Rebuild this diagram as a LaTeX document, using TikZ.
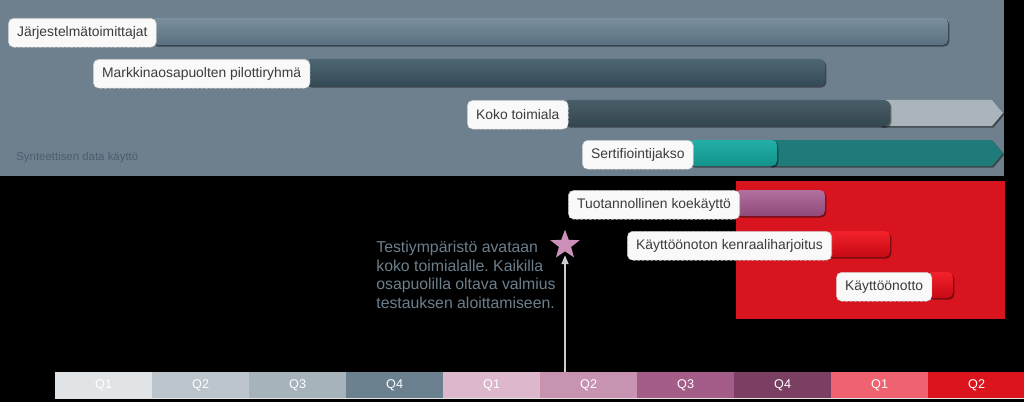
\documentclass[tikz,border=0pt]{standalone}
\usepackage{fontspec}
\setmainfont{Liberation Sans}
\usepackage{tikz}
\usetikzlibrary{positioning,shapes.geometric,arrows.meta,shadows}
\frenchspacing

\definecolor{panelgrey}{HTML}{6E7F8D}
\definecolor{synthgrey}{HTML}{4B5E6D}
\definecolor{notegrey}{HTML}{6C7F8C}
\definecolor{lbltext}{HTML}{3C3C3C}
\definecolor{boxred}{HTML}{D8141E}
\definecolor{suppA}{HTML}{7B8F9D}
\definecolor{suppB}{HTML}{587080}
\definecolor{pilotA}{HTML}{4E6672}
\definecolor{pilotB}{HTML}{344A56}
\definecolor{kokoA}{HTML}{4A5E69}
\definecolor{kokoB}{HTML}{33464F}
\definecolor{kokolight}{HTML}{A9B5BB}
\definecolor{tealA}{HTML}{22AFA7}
\definecolor{tealB}{HTML}{12928B}
\definecolor{tealdark}{HTML}{1F7B79}
\definecolor{purpA}{HTML}{B270A0}
\definecolor{purpB}{HTML}{8E4A78}
\definecolor{redA}{HTML}{F2222C}
\definecolor{redB}{HTML}{C60A14}
\definecolor{starpink}{HTML}{CC90B8}
\definecolor{arrowgrey}{HTML}{C9CED2}
\definecolor{qa}{HTML}{E1E4E6}
\definecolor{qb}{HTML}{BCC5CB}
\definecolor{qc}{HTML}{A6B3BA}
\definecolor{qd}{HTML}{6B8190}
\definecolor{qe}{HTML}{DDB7CC}
\definecolor{qf}{HTML}{C893B0}
\definecolor{qg}{HTML}{A45C88}
\definecolor{qh}{HTML}{7A3F62}
\definecolor{qi}{HTML}{EF6370}
\definecolor{qj}{HTML}{DB141E}

\pgfdeclarelayer{back}
\pgfdeclarelayer{bars}
\pgfsetlayers{back,bars,main}

\tikzset{
  lbl/.style={draw=gray!50, dash pattern=on 1.5pt off 1pt, fill=white!95!gray, rounded corners=3pt,
    text=lbltext, font=\fontsize{7.9}{9}\selectfont, inner xsep=5pt, minimum height=16.4pt, anchor=north west},
  barshadow/.style={drop shadow={shadow xshift=0.8pt, shadow yshift=-0.9pt, opacity=0.45, fill=black}},
  bar/.style={rounded corners=3pt, barshadow},
  quarter/.style={minimum width=55pt, minimum height=14.7pt, inner sep=0pt, anchor=north west,
    text=white, font=\fontsize{7.2}{8}\selectfont}
}

\begin{document}
\begin{tikzpicture}[x=0.02cm, y=-0.02cm]

\begin{pgfonlayer}{back}
\fill[black] (0,0) rectangle (1024,402);
\fill[panelgrey] (0,0) rectangle (1004,176);
\fill[boxred] (736,181) rectangle (1005,319);
\end{pgfonlayer}
\useasboundingbox (0,0) rectangle (1024,402);

\node[anchor=west, inner sep=0pt, font=\fontsize{6.5}{7}\selectfont, text=synthgrey] (synth) at (16,158) {Synteettisen data käyttö};

% labels
\node[lbl] (supp) at (8,18) {Järjestelmätoimittajat};
\node[lbl] (pilot) at (93,59) {Markkinaosapuolten pilottiryhmä};
\node[lbl] (koko) at (467,100) {Koko toimiala};
\node[lbl] (sert) at (582,140) {Sertifiointijakso};
\node[lbl] (tuot) at (568,190) {Tuotannollinen koekäyttö};
\node[lbl] (kenr) at (627,231) {Käyttöönoton kenraaliharjoitus};
\node[lbl] (kayt) at (836,272) {Käyttöönotto};

% bars
\begin{pgfonlayer}{bars}
\shade[bar, top color=suppA, bottom color=suppB] ([xshift=-3pt]supp.north east) rectangle (948,45);
\shade[bar, top color=pilotA, bottom color=pilotB] ([xshift=-3pt]pilot.north east) rectangle (825,86);
\fill[kokolight, barshadow] (880,100) -- (992,100) -- (1003,113) -- (992,126) -- (880,126) -- cycle;
\shade[bar, top color=kokoA, bottom color=kokoB] ([xshift=-3pt]koko.north east) rectangle (890,126);
\fill[tealdark, barshadow] (770,140) -- (992,140) -- (1003,153) -- (992,166) -- (770,166) -- cycle;
\shade[bar, top color=tealA, bottom color=tealB] ([xshift=-3pt]sert.north east) rectangle (777,166);
\shade[bar, top color=purpA, bottom color=purpB] ([xshift=-3pt]tuot.north east) rectangle (825,216);
\shade[bar, top color=redA, bottom color=redB] ([xshift=-3pt]kenr.north east) rectangle (890,257);
\shade[bar, top color=redA, bottom color=redB] ([xshift=-3pt]kayt.north east) rectangle (953,298);
\end{pgfonlayer}

% milestone
\node[star, star points=5, star point ratio=2.4, fill=starpink, minimum size=17.5pt, inner sep=0pt] (star) at (565,245) {};
\node[anchor=north west, inner sep=0pt, align=left, text=notegrey, font=\fontsize{9}{10.5}\selectfont] (note) at (376,241)
  {Testiympäristö avataan\\koko toimialalle. Kaikilla\\osapuolilla oltava valmius\\testauksen aloittamiseen.};

% quarters
\foreach \col/\lab [count=\i from 0] in {qa/Q1,qb/Q2,qc/Q3,qd/Q4,qe/Q1,qf/Q2,qg/Q3,qh/Q4,qi/Q1,qj/Q2}
  \node[quarter, fill=\col] (q\i) at (55+97*\i,372) {\lab};
\draw[white!80!gray, line width=0.8pt] (q0.south west) -- (q9.south east);

\coordinate (arrbase) at (565,372);
\draw[arrowgrey, line width=0.9pt, -{Triangle[length=5pt, width=4pt]}] (arrbase) -- ([yshift=-2pt]star.south);

\end{tikzpicture}
\end{document}
